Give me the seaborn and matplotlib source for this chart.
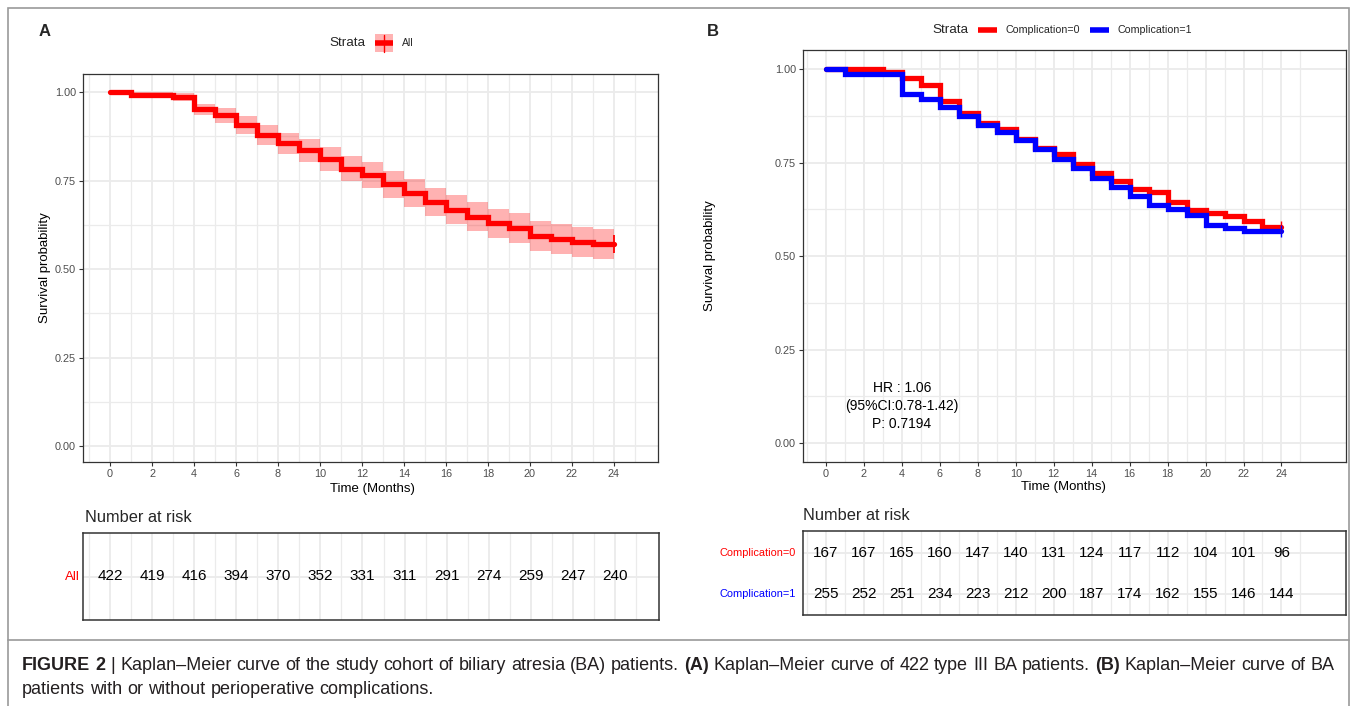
import numpy as np
import pandas as pd
import matplotlib
matplotlib.use("Agg")
import matplotlib.pyplot as plt
import seaborn as sns
from matplotlib.patches import Rectangle
from matplotlib.lines import Line2D

# ---------------- data ----------------
# Panel A: overall cohort (step start times in months)
step_times = list(range(0, 24))
end_time = 24
surv_A = [1.000, 0.993, 0.993, 0.987, 0.951, 0.935, 0.907, 0.879, 0.855, 0.835,
          0.810, 0.784, 0.766, 0.740, 0.714, 0.690, 0.667, 0.648, 0.629, 0.615,
          0.593, 0.585, 0.576, 0.571]
upper_A = [1.000, 1.000, 1.000, 0.997, 0.967, 0.956, 0.932, 0.907, 0.885, 0.867,
           0.844, 0.819, 0.802, 0.778, 0.753, 0.730, 0.708, 0.689, 0.671, 0.657,
           0.636, 0.628, 0.619, 0.614]
lower_A = [1.000, 0.985, 0.985, 0.976, 0.935, 0.914, 0.882, 0.851, 0.825, 0.803,
           0.776, 0.749, 0.730, 0.702, 0.675, 0.650, 0.626, 0.607, 0.587, 0.573,
           0.550, 0.542, 0.533, 0.528]

# Panel B: by complication
strata_B = ["Complication=0", "Complication=1"]
surv_B0 = [1.000, 1.000, 1.000, 0.992, 0.976, 0.958, 0.916, 0.882, 0.857, 0.840,
           0.815, 0.789, 0.774, 0.746, 0.722, 0.702, 0.679, 0.673, 0.646, 0.624,
           0.615, 0.608, 0.594, 0.578]
surv_B1 = [1.000, 0.989, 0.989, 0.987, 0.934, 0.920, 0.899, 0.875, 0.851, 0.833,
           0.811, 0.786, 0.760, 0.735, 0.709, 0.685, 0.661, 0.637, 0.627, 0.610,
           0.583, 0.575, 0.567, 0.567]

# Number at risk
risk_times = list(range(0, 25, 2))
risk_A = [422, 419, 416, 394, 370, 352, 331, 311, 291, 274, 259, 247, 240]
risk_B0 = [167, 167, 165, 160, 147, 140, 131, 124, 117, 112, 104, 101, 96]
risk_B1 = [255, 252, 251, 234, 223, 212, 200, 187, 174, 162, 155, 146, 144]

hr_lines = ["HR : 1.06", "(95%CI:0.78-1.42)", "P: 0.7194"]
y_ticks = [0.0, 0.25, 0.5, 0.75, 1.0]
x_ticks = list(range(0, 25, 2))

# ---------------- style ----------------
sns.set_theme(style="white")
plt.rcParams["font.family"] = ["Liberation Sans", "DejaVu Sans"]
CAP_FAMILY = ["Liberation Sans"]

W, H = 1357, 706
fig = plt.figure(figsize=(W / 100, H / 100), dpi=100)
fig.patch.set_facecolor("white")


def rect(l, t, r, b):
    return [l / W, 1 - b / H, (r - l) / W, (b - t) / H]


def fx(x):
    return x / W


def fy(y):
    return 1 - y / H


GRID = "#EBEBEB"
RED = "#FF0000"
BLUE = "#0000FF"
TICKC = "#4D4D4D"
BORDER = "#333333"


def km_axes(ax, xlim, ylim):
    ax.set_xlim(*xlim)
    ax.set_ylim(*ylim)
    for x in range(-1, 26):
        ax.axvline(x, color=GRID, lw=1.3 if x % 2 == 0 else 0.9, zorder=0)
    for y in np.arange(0, 1.01, 0.125):
        ax.axhline(y, color=GRID, lw=1.3 if abs((y / 0.25) - round(y / 0.25)) < 1e-6 else 0.9, zorder=0)
    ax.set_xticks(x_ticks)
    ax.set_xticklabels([str(t) for t in x_ticks])
    ax.set_yticks(y_ticks)
    ax.set_yticklabels([f"{v:.2f}" for v in y_ticks])
    ax.tick_params(axis="both", which="major", length=3, width=0.8, color=BORDER,
                   labelsize=7.8, labelcolor=TICKC, pad=2, bottom=True, left=True)
    for s in ax.spines.values():
        s.set_color(BORDER)
        s.set_linewidth(0.9)
    ax.grid(False)


# ---------------- Panel A ----------------
axA = fig.add_axes(rect(83, 74, 658, 462))
km_axes(axA, (-1.29, 26.1), (-0.045, 1.051))
tA = step_times + [end_time]
axA.fill_between(tA, lower_A + [lower_A[-1]], upper_A + [upper_A[-1]], step="post",
                 color=RED, alpha=0.3, lw=0, zorder=1)
dfA = pd.DataFrame({"time": tA, "surv": surv_A + [surv_A[-1]]})
sns.lineplot(data=dfA, x="time", y="surv", ax=axA, color=RED, lw=3.8,
             drawstyle="steps-post", estimator=None, legend=False,
             solid_joinstyle="miter", zorder=2)
axA.plot([end_time], [surv_A[-1]], marker="|", ms=13, mew=1.3, color=RED, zorder=3)
axA.set_xlabel("Time (Months)", fontsize=9.5, color="black")
axA.set_ylabel("Survival probability", fontsize=9.5, color="black")
axA.xaxis.set_label_coords(0.504, -0.054)
axA.yaxis.set_label_coords(-0.0548, 0.5)

# ---------------- Panel B ----------------
axB = fig.add_axes(rect(803, 50, 1346, 462))
km_axes(axB, (-1.21, 27.4), (-0.051, 1.052))
rows = []
for name, sv in zip(strata_B, [surv_B0, surv_B1]):
    for t, v in zip(tA, sv + [sv[-1]]):
        rows.append({"time": t, "surv": v, "Strata": name})
dfB = pd.DataFrame(rows)
sns.lineplot(data=dfB, x="time", y="surv", hue="Strata", hue_order=strata_B,
             palette={strata_B[0]: RED, strata_B[1]: BLUE}, ax=axB, lw=3.8,
             drawstyle="steps-post", estimator=None, legend=False,
             solid_joinstyle="miter", zorder=2)
axB.plot([end_time], [surv_B0[-1]], marker="|", ms=8, mew=1.0, color=RED, zorder=3)
axB.plot([end_time], [surv_B1[-1]], marker="|", ms=8, mew=1.0, color=BLUE, zorder=3)
axB.set_xlabel("Time (Months)", fontsize=9.5, color="black")
axB.set_ylabel("Survival probability", fontsize=9.5, color="black")
axB.xaxis.set_label_coords(0.48, -0.046)
axB.yaxis.set_label_coords(-0.161, 0.5)
for txt, yv in zip(hr_lines, [0.147, 0.099, 0.051]):
    axB.text(4.0, yv, txt, ha="center", va="center", fontsize=10, color="black")


# ---------------- risk tables ----------------
def table_axes(ax, xlim, ylim, row_ys):
    ax.set_xlim(*xlim)
    ax.set_ylim(*ylim)
    for x in range(-1, 26):
        ax.axvline(x, color=GRID, lw=1.3 if x % 2 == 0 else 0.9, zorder=0)
    for y in row_ys:
        ax.axhline(y, color=GRID, lw=1.3, zorder=0)
    ax.set_xticks([])
    ax.set_yticks([])
    for s in ax.spines.values():
        s.set_color(BORDER)
        s.set_linewidth(1.1)
    ax.grid(False)


tabA = fig.add_axes(rect(83, 533, 659, 620))
table_axes(tabA, (-1.29, 26.1), (-0.5, 0.5), [0])
for t, n in zip(risk_times, risk_A):
    tabA.text(t, 0, str(n), ha="center", va="center", fontsize=11, color="black")
tabA.text(-0.006, 0.5, "All", transform=tabA.transAxes, ha="right", va="center",
          fontsize=9.5, color=RED)

tabB = fig.add_axes(rect(803, 531, 1346, 615))
table_axes(tabB, (-1.21, 27.4), (-0.512, 1.537), [0, 1])
for t, n0, n1 in zip(risk_times, risk_B0, risk_B1):
    tabB.text(t, 1, str(n0), ha="center", va="center", fontsize=11, color="black")
    tabB.text(t, 0, str(n1), ha="center", va="center", fontsize=11, color="black")
tabB.text(-0.013, (1 + 0.512) / (1.537 + 0.512), strata_B[0], transform=tabB.transAxes,
          ha="right", va="center", fontsize=7.9, color=RED)
tabB.text(-0.013, (0 + 0.512) / (1.537 + 0.512), strata_B[1], transform=tabB.transAxes,
          ha="right", va="center", fontsize=7.9, color=BLUE)

fig.text(fx(85), fy(517), "Number at risk", fontsize=11.8, ha="left", va="center")
fig.text(fx(803), fy(515), "Number at risk", fontsize=11.8, ha="left", va="center")

# ---------------- panel letters & legends ----------------
fig.text(fx(39), fy(32), "A", fontsize=12, fontweight="bold", ha="left", va="center")
fig.text(fx(707), fy(32), "B", fontsize=12, fontweight="bold", ha="left", va="center")

fig.text(fx(329), fy(43), "Strata", fontsize=9.7, ha="left", va="center")
fig.add_artist(Rectangle((fx(375), fy(51.5)), (393 - 375) / W, (51.5 - 34.5) / H,
                         transform=fig.transFigure, facecolor="#FFB3B3", edgecolor="none"))
fig.add_artist(Line2D([fx(375), fx(393)], [fy(43), fy(43)], transform=fig.transFigure,
                      color=RED, lw=4.0, solid_capstyle="butt"))
fig.add_artist(Line2D([fx(384), fx(384)], [fy(34.5), fy(51.5)], transform=fig.transFigure,
                      color=RED, lw=1.0))
fig.text(fx(402), fy(43), "All", fontsize=7.5, ha="left", va="center")

fig.text(fx(932), fy(30), "Strata", fontsize=9.7, ha="left", va="center")
fig.add_artist(Line2D([fx(978), fx(997)], [fy(30), fy(30)], transform=fig.transFigure,
                      color=RED, lw=4.0, solid_capstyle="butt"))
fig.text(fx(1006), fy(30), strata_B[0], fontsize=7.7, ha="left", va="center")
fig.add_artist(Line2D([fx(1090), fx(1109)], [fy(30), fy(30)], transform=fig.transFigure,
                      color=BLUE, lw=4.0, solid_capstyle="butt"))
fig.text(fx(1117), fy(30), strata_B[1], fontsize=7.7, ha="left", va="center")

# ---------------- frame ----------------
fig.add_artist(Rectangle((fx(8), fy(640)), (1349 - 8) / W, (640 - 8) / H,
                         transform=fig.transFigure, fill=False, edgecolor="#9A9A9A", lw=1.2))
for xe in (8, 1349):
    fig.add_artist(Line2D([fx(xe), fx(xe)], [fy(640), fy(706)], transform=fig.transFigure,
                          color="#9A9A9A", lw=1.2))

# ---------------- caption ----------------
cap1 = [("FIGURE 2", True),
        ("| Kaplan–Meier curve of the study cohort of biliary atresia (BA) patients.", False),
        ("(A)", True), ("Kaplan–Meier curve of 422 type III BA patients.", False),
        ("(B)", True), ("Kaplan–Meier curve of BA", False)]
cap2 = [("patients with or without perioperative complications.", False)]

renderer = fig.canvas.get_renderer()


def words(segs):
    out = []
    for s, b in segs:
        for w in s.split(" "):
            out.append((w, b))
    return out


def measure(txt, fs, bold):
    t = fig.text(0, 0, txt, fontsize=fs, fontweight="bold" if bold else "normal",
                 family=CAP_FAMILY)
    w = t.get_window_extent(renderer=renderer).width
    t.remove()
    return w


def space_w(fs):
    return measure("a a", fs, False) - measure("aa", fs, False)


def line_width(ws, fs):
    sp = space_w(fs)
    return sum(measure(w, fs, b) for w, b in ws) + sp * (len(ws) - 1)


w1 = words(cap1)
base = line_width(w1, 11)
fs_cap = 11 * (1330 - 22) / base


def draw_line(ws, x0, y, fs):
    sp = space_w(fs)
    x = x0
    for w, b in ws:
        t = fig.text(fx(x), fy(y), w, fontsize=fs, fontweight="bold" if b else "normal",
                     ha="left", va="center", color="#231F20", family=CAP_FAMILY)
        x += t.get_window_extent(renderer=renderer).width + sp


draw_line(w1, 22, 665, fs_cap)
draw_line(words(cap2), 22, 689, fs_cap)

fig.savefig("out.png", dpi=100, facecolor="white")
